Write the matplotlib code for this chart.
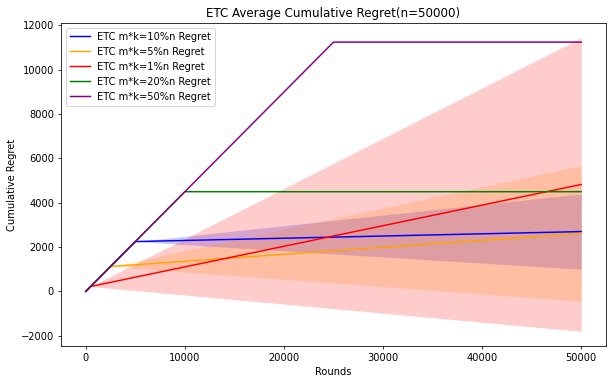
import matplotlib
matplotlib.use("Agg")
import matplotlib.pyplot as plt

# ETC runs: explore points (m*k) and mean regret at key rounds
labels = ["ETC m*k=10%n Regret", "ETC m*k=5%n Regret", "ETC m*k=1%n Regret",
          "ETC m*k=20%n Regret", "ETC m*k=50%n Regret"]
colors = ["blue", "orange", "red", "green", "purple"]

blue_x = [0, 5000, 50000]
blue_y = [0, 2250, 2700]
orange_x = [0, 2500, 50000]
orange_y = [0, 1125, 2620]
red_x = [0, 500, 50000]
red_y = [0, 225, 4825]
green_x = [0, 10000, 50000]
green_y = [0, 4500, 4500]
purple_x = [0, 25000, 50000]
purple_y = [0, 11250, 11250]

# std band (mean +/- std) at band start / end
blue_band_x = [5000, 50000]
blue_lo = [2250, 1000]
blue_hi = [2250, 4400]
orange_band_x = [2500, 50000]
orange_lo = [1125, -440]
orange_hi = [1125, 5680]
red_band_x = [500, 50000]
red_lo = [225, -1800]
red_hi = [225, 11450]

dpi = 71
fig = plt.figure(figsize=(612 / dpi, 384 / dpi), dpi=dpi)
ax = fig.add_axes([61 / 612, 1 - 346 / 384, (606 - 61) / 612, (346 - 23) / 384])

series = [(blue_x, blue_y), (orange_x, orange_y), (red_x, red_y),
          (green_x, green_y), (purple_x, purple_y)]
bands = [(blue_band_x, blue_lo, blue_hi), (orange_band_x, orange_lo, orange_hi),
         (red_band_x, red_lo, red_hi)]

for (x, y), lab, c in zip(series, labels, colors):
    ax.plot(x, y, color=c, label=lab)
for (bx, lo, hi), c in zip(bands, colors):
    ax.fill_between(bx, lo, hi, color=c, alpha=0.2, linewidth=0)

ax.set_title("ETC Average Cumulative Regret(n=50000)")
ax.set_xlabel("Rounds")
ax.set_ylabel("Cumulative Regret")
ax.legend(loc="upper left")

fig.savefig("out.png", dpi=dpi)
